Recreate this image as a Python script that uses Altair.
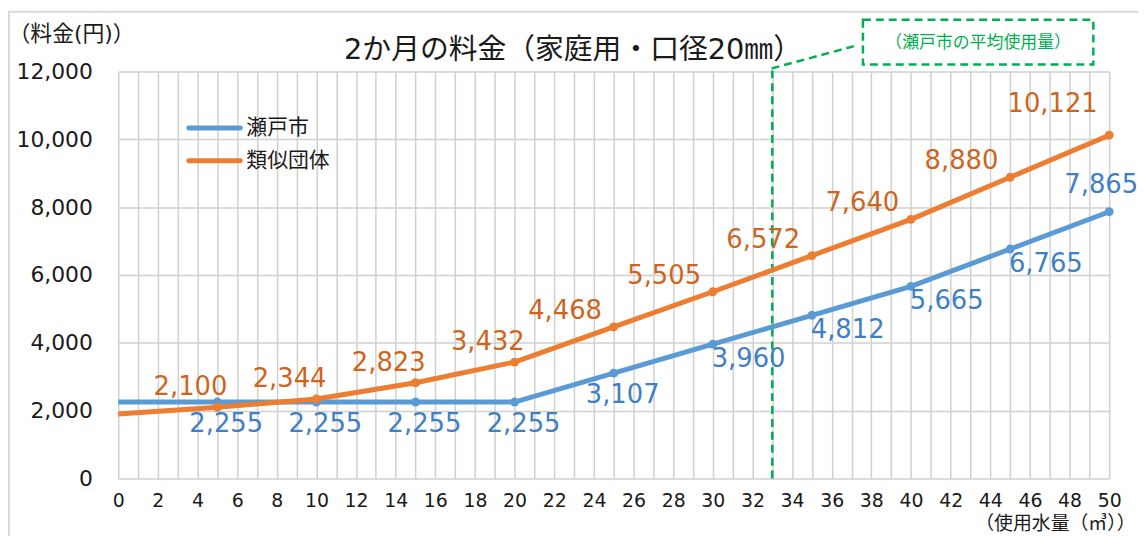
import altair as alt
import pandas as pd

# ---- data ----
usage = [0, 5, 10, 15, 20, 25, 30, 35, 40, 45, 50]
seto = [2255, 2255, 2255, 2255, 2255, 3107, 3960, 4812, 5665, 6765, 7865]
ruiji = [1900, 2100, 2344, 2823, 3432, 4468, 5505, 6572, 7640, 8880, 10121]
series_names = ["瀬戸市", "類似団体"]
avg_usage = [33]
x_ticks = list(range(0, 51))
y_ticks = list(range(0, 12001, 2000))

rows = []
for s, vals in zip(series_names, [seto, ruiji]):
    for u, v in zip(usage, vals):
        rows.append({"series": s, "usage": u, "fee": v})
df = pd.DataFrame(rows)

FONT = "DejaVu Sans, Noto Sans CJK JP"
W, H = 998, 410
BLUE, ORANGE = "#5B9BD5", "#ED7D31"
BLUE_T, ORANGE_T = "#3F80C3", "#CC661F"
GREEN = "#00B050"
TXT = "#1a1a1a"

x_axis = alt.Axis(
    values=x_ticks, labelExpr="datum.value % 2 == 0 ? datum.label : ''",
    grid=True, ticks=False, domain=False, gridColor="#d0d0d0", gridWidth=1.5,
    labelFont=FONT, labelFontSize=19, labelColor=TXT, labelPadding=13,
    labelOverlap=False, labelFlush=False,
    title="（使用水量（㎥））", titleFont=FONT, titleFontSize=19,
    titleFontWeight="normal", titleColor=TXT, titleX=1024, titleY=55,
    titleAlign="right", titleBaseline="bottom",
)
y_axis = alt.Axis(
    values=y_ticks, format=",d", grid=True, ticks=False, domain=False,
    gridColor="#d0d0d0", gridWidth=1.5, labelFont=FONT, labelFontSize=22,
    labelColor=TXT, labelPadding=26,
    title="（料金(円)）", titleFont=FONT, titleFontSize=22,
    titleFontWeight="normal", titleColor=TXT, titleAngle=0, titleX=-111,
    titleY=-38, titleAlign="left", titleBaseline="middle",
)
xs = alt.Scale(domain=[0, 50], nice=False, zero=False)
ys = alt.Scale(domain=[0, 12000], nice=False)

base = alt.Chart(df)
X = alt.X("usage:Q", scale=xs, axis=x_axis)
Y = alt.Y("fee:Q", scale=ys, axis=y_axis)

one = pd.DataFrame({"a": [0]})

border = alt.Chart(one).mark_rect(fillOpacity=0, stroke="#d9d9d9", strokeWidth=2).encode(
    x=alt.value(-110), x2=alt.value(1100), y=alt.value(-60), y2=alt.value(600))

avg_line = alt.Chart(pd.DataFrame({"usage": avg_usage})).mark_rule(
    color=GREEN, strokeDash=[8, 5], strokeWidth=2.5).encode(
    x=X, y=alt.value(H), y2=alt.value(-3))
diag = alt.Chart(one).mark_rule(color=GREEN, strokeDash=[8, 5], strokeWidth=2.5).encode(
    x=alt.value(658), y=alt.value(-3), x2=alt.value(743), y2=alt.value(-26))
box = alt.Chart(one).mark_rect(fillOpacity=0, stroke=GREEN, strokeDash=[8, 5], strokeWidth=2.5).encode(
    x=alt.value(750), x2=alt.value(982), y=alt.value(-52), y2=alt.value(-7))
box_text = alt.Chart(one).mark_text(font=FONT, fontSize=17, color=GREEN, align="center", baseline="middle").encode(
    x=alt.value(866), y=alt.value(-29), text=alt.value("（瀬戸市の平均使用量）"))

title = alt.Chart(one).mark_text(font=FONT, fontSize=29, color=TXT, align="center", baseline="middle").encode(
    x=alt.value(458), y=alt.value(-22), text=alt.value("2か月の料金（家庭用・口径20㎜）"))

def series_layers(name, color):
    d = base.transform_filter(alt.datum.series == name)
    line = d.mark_line(color=color, strokeWidth=5).encode(x=X, y=Y)
    pts = d.transform_filter(alt.datum.usage > 0).mark_circle(color=color, size=80, opacity=1).encode(x=X, y=Y)
    return [line, pts]

def labels(name, color, lo, hi, dx, dy):
    return base.transform_filter(
        (alt.datum.series == name) & (alt.datum.usage >= lo) & (alt.datum.usage <= hi)
    ).mark_text(font=FONT, fontSize=26, color=color, dx=dx, dy=dy, align="center", baseline="middle").encode(
        x=X, y=Y, text=alt.Text("fee:Q", format=","))

legend_layers = []
for i, (name, color) in enumerate(zip(series_names, [BLUE, ORANGE])):
    yv = 57 + 33 * i
    legend_layers.append(alt.Chart(one).mark_rule(color=color, strokeWidth=5, strokeCap="round").encode(
        x=alt.value(71), x2=alt.value(123), y=alt.value(yv), y2=alt.value(yv)))
    legend_layers.append(alt.Chart(one).mark_text(font=FONT, fontSize=21, color=TXT, align="left", baseline="middle").encode(
        x=alt.value(129), y=alt.value(yv), text=alt.value(name)))

layers = [border, avg_line, diag, box, box_text, title]
layers += series_layers("瀬戸市", BLUE)
layers += series_layers("類似団体", ORANGE)
layers += [
    labels("瀬戸市", BLUE_T, 5, 25, 9, 22),
    labels("瀬戸市", BLUE_T, 30, 45, 36, 15),
    labels("瀬戸市", BLUE_T, 50, 50, -8, -27),
    labels("類似団体", ORANGE_T, 5, 20, -27, -20),
    labels("類似団体", ORANGE_T, 25, 45, -49, -16),
    labels("類似団体", ORANGE_T, 50, 50, -57, -31),
]
layers += legend_layers

chart = alt.layer(*layers).properties(
    width=W, height=H,
    padding={"left": 111, "top": 62, "right": 29, "bottom": 56},
    autosize=alt.AutoSizeParams(type="none"),
).configure_view(stroke=None)

chart.save("out.html", embed_options={"renderer": "svg", "actions": False})
